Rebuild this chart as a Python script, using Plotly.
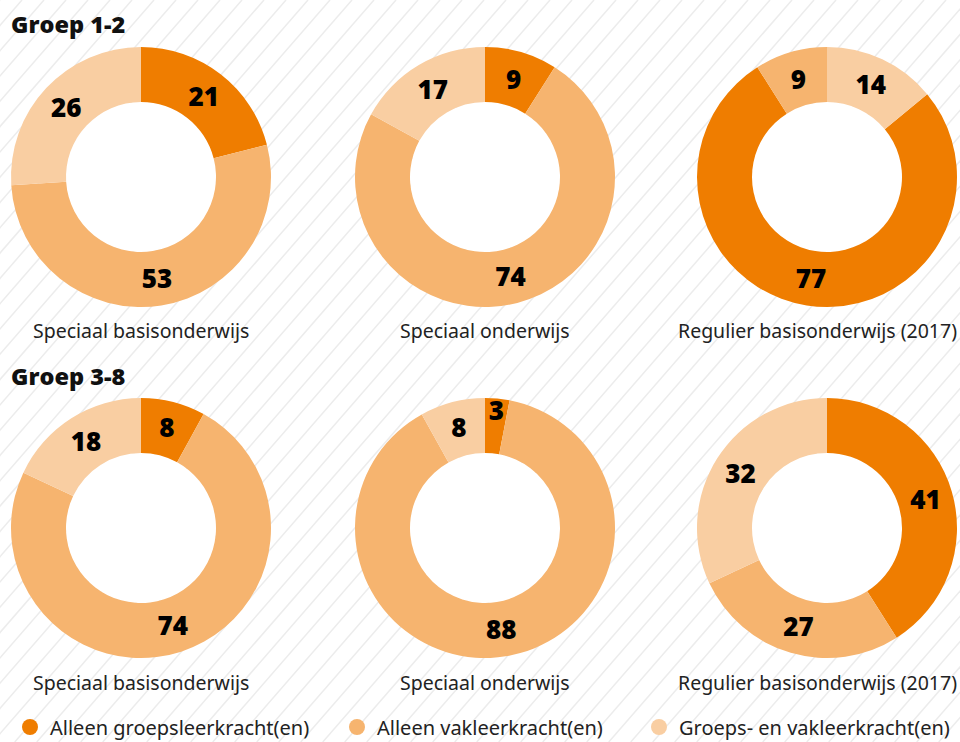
import plotly.graph_objects as go

# ---- data ----
categories = ["Alleen groepsleerkracht(en)", "Alleen vakleerkracht(en)", "Groeps- en vakleerkracht(en)"]
school_types = ["Speciaal basisonderwijs", "Speciaal onderwijs", "Regulier basisonderwijs (2017)"]
section_titles = ["Groep 1-2", "Groep 3-8"]

g12_sbo = [21, 53, 26]
g12_so = [9, 74, 17]
g12_bao = [77, 9, 14]
g38_sbo = [8, 74, 18]
g38_so = [3, 88, 8]
g38_bao = [41, 27, 32]

colors = ["#EF7D00", "#F6B46F", "#F9CEA2"]

W, H = 960, 742
R_OUT, R_IN = 130, 75
centers_x = [141, 485, 827]
centers_y = [177, 528]
rows = [[g12_sbo, g12_so, g12_bao], [g38_sbo, g38_so, g38_bao]]
rotations = [[0, 0, 360 * g12_bao[2] / sum(g12_bao)], [0, 0, 0]]

def px(x):
    return x / W

def py(y):
    return 1 - y / H

fig = go.Figure()

for r, row in enumerate(rows):
    cy = centers_y[r]
    for c, vals in enumerate(row):
        cx = centers_x[c]
        fig.add_trace(go.Pie(
            labels=categories,
            values=vals,
            sort=False,
            direction="clockwise",
            rotation=rotations[r][c],
            hole=R_IN / R_OUT,
            marker=dict(colors=colors, line=dict(width=0)),
            texttemplate="%{value}",
            textposition="inside",
            insidetextorientation="horizontal",
            textfont=dict(family="Open Sans", size=26, color="#000000", weight=800),
            hoverinfo="label+value",
            showlegend=False,
            domain=dict(x=[px(cx - R_OUT), px(cx + R_OUT)],
                        y=[py(cy + R_OUT), py(cy - R_OUT)]),
        ))

# legend entries (circle markers), one legend each
legend_x = [10, 337, 639]
for i, cat in enumerate(categories):
    lname = "legend" if i == 0 else f"legend{i+1}"
    fig.add_trace(go.Scatter(
        x=[0], y=[0], mode="markers", name=cat,
        marker=dict(symbol="circle", size=18, color=colors[i]),
        legend=lname, showlegend=True, hoverinfo="skip",
    ))

# background hatch
shapes = []
slope = 1.15
span = H / slope
step = 22
k = 0
while True:
    xb = -span + k * step
    if xb > W:
        break
    shapes.append(dict(type="line", xref="paper", yref="paper",
                       x0=px(xb), y0=py(H), x1=px(xb + span), y1=py(0),
                       line=dict(color="#ECECEC", width=1.5), layer="below"))
    k += 1
for cy in centers_y:
    for cx in centers_x:
        shapes.append(dict(type="circle", xref="paper", yref="paper",
                           x0=px(cx - R_IN), x1=px(cx + R_IN),
                           y0=py(cy + R_IN), y1=py(cy - R_IN),
                           fillcolor="white", line=dict(width=0), layer="below"))

annotations = []
title_y = [24, 376]
for r, t in enumerate(section_titles):
    annotations.append(dict(text=t, x=px(9), y=py(title_y[r]), xref="paper", yref="paper",
                            xanchor="left", yanchor="middle", showarrow=False,
                            font=dict(family="Open Sans", size=23.5, color="#111111", weight=800)))
sub_y = [330, 682]
for r in range(2):
    for c, name in enumerate(school_types):
        if c == 2:
            x, xa = px(959), "right"
        else:
            x, xa = px(centers_x[c]), "center"
        annotations.append(dict(text=name, x=x, y=py(sub_y[r]), xref="paper", yref="paper",
                                xanchor=xa, yanchor="middle", showarrow=False,
                                font=dict(family="Noto Sans", size=19.5, color="#222222")))

legend_common = dict(orientation="h", yanchor="middle", y=py(727), xanchor="left",
                     bgcolor="rgba(0,0,0,0)", font=dict(family="Noto Sans", size=20, color="#222222"),
                     itemclick=False, itemdoubleclick=False)
layout_legends = {}
for i in range(3):
    key = "legend" if i == 0 else f"legend{i+1}"
    layout_legends[key] = dict(legend_common, x=px(legend_x[i]))

fig.update_layout(
    width=W, height=H,
    margin=dict(l=0, r=0, t=0, b=0, autoexpand=False),
    paper_bgcolor="white", plot_bgcolor="rgba(0,0,0,0)",
    xaxis=dict(visible=False, range=[1, 2]),
    yaxis=dict(visible=False, range=[1, 2]),
    shapes=shapes, annotations=annotations,
    uniformtext=dict(minsize=26, mode="show"),
    **layout_legends,
)

fig.write_html("out.html", config={"displayModeBar": False},
               post_script="document.body.style.margin='0';")
